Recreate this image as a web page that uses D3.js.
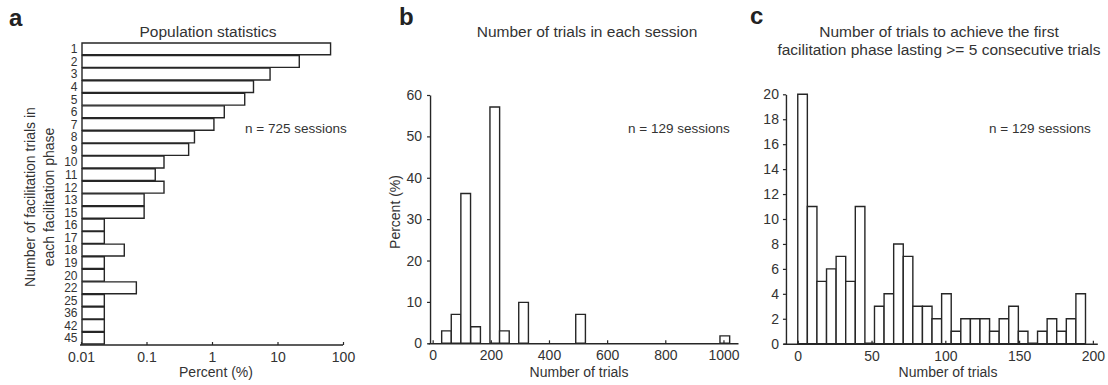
<!DOCTYPE html>
<html>
<head>
<meta charset="utf-8">
<script src="https://cdn.jsdelivr.net/npm/d3@7"></script>
<style>
  html, body { margin: 0; padding: 0; background: #fff; }
  svg { display: block; font-family: "Liberation Sans", Arial, sans-serif; }
  text { fill: #333; }
</style>
</head>
<body>
<svg id="chart" width="1108" height="385"></svg>
<script>
// ---------- Panel a data ----------
const aCategories = ["1","2","3","4","5","6","7","8","9","10","11","12","13","15","16","17","18","19","20","22","25","36","42","45"];
const aPercent = [64.6, 21.5, 7.7, 4.3, 3.16, 1.54, 1.07, 0.54, 0.44, 0.185, 0.136, 0.185, 0.092, 0.092, 0.0227, 0.0227, 0.0458, 0.0227, 0.0227, 0.07, 0.0227, 0.0227, 0.0227, 0.0227];
const aTicks = [0.01, 0.1, 1, 10, 100];
const aTickLabels = ["0.01", "0.1", "1", "10", "100"];

// ---------- Panel b data ----------
const bBinStart = [31, 64, 97, 131, 197, 230, 296, 492, 988];
const bBinWidth = 33.3;
const bPercent = [3, 7, 36.2, 4, 57.1, 3, 9.9, 7, 1.8];
const bXTicks = [0, 200, 400, 600, 800, 1000];
const bYTicks = [0, 10, 20, 30, 40, 50, 60];

// ---------- Panel c data ----------
const cBinWidth = 6.5;
const cPercent = [20, 11, 5, 6, 7, 5, 11, 0, 3, 4, 8, 7, 3, 3, 2, 4, 1, 2, 2, 2, 1, 2, 3, 1, 0, 1, 2, 1, 2, 4];
const cXTicks = [0, 50, 100, 150, 200];
const cYTicks = [0, 2, 4, 6, 8, 10, 12, 14, 16, 18, 20];

const svg = d3.select("#chart");
const INK = "#262626";
const TXT = "#333";

function barPath(x0, x1, y0, y1) {
  return `M${x0},${y0}V${y1}H${x1}V${y0}Z`;
}

function styleAxis(g) {
  g.selectAll("path.domain").attr("stroke", INK).attr("stroke-width", 1.4);
  g.selectAll(".tick line").attr("stroke", INK).attr("stroke-width", 1.2);
  g.selectAll(".tick text").attr("fill", TXT).attr("font-family", "Liberation Sans, Arial, sans-serif");
}

// ================= Panel a =================
(function () {
  const x = d3.scaleLog().domain([0.01, 100]).range([81, 343]);
  const y = d3.scaleBand().domain(aCategories).range([43, 344]).paddingInner(0.06);
  const g = svg.append("g");

  g.selectAll("path.bar").data(aPercent).join("path")
    .attr("class", "bar")
    .attr("d", (d, i) => barPath(x(0.01) + 1, x(d), y(aCategories[i]) + y.bandwidth(), y(aCategories[i])))
    .attr("fill", "#fff").attr("stroke", INK).attr("stroke-width", 1.4);

  g.selectAll("text.ylab").data(aCategories).join("text")
    .attr("class", "ylab")
    .attr("x", 77.5)
    .attr("y", d => y(d) + y.bandwidth() / 2)
    .attr("dy", "0.36em")
    .attr("text-anchor", "end")
    .attr("font-size", 12)
    .text(d => d);

  const ax = g.append("g").attr("transform", "translate(0,345)")
    .call(d3.axisBottom(x).tickValues(aTicks).tickFormat((d, i) => aTickLabels[i]).tickSize(-3).tickSizeOuter(0).tickPadding(7));
  ax.selectAll(".tick text").attr("font-size", 14);
  styleAxis(ax);
  ax.select("path.domain").attr("d", `M${x(0.01) - 1},0H${x(100)}`);

  g.append("text").attr("x", 216).attr("y", 376.5).attr("text-anchor", "middle").attr("font-size", 14).text("Percent (%)");
  g.append("text").attr("x", 208).attr("y", 36.5).attr("text-anchor", "middle").attr("font-size", 15.5).text("Population statistics");
  g.append("text").attr("x", 245).attr("y", 132.5).attr("font-size", 13.5).text("n = 725 sessions");

  g.append("text").attr("transform", "translate(35,197) rotate(-90)").attr("text-anchor", "middle").attr("font-size", 14)
    .text("Number of facilitation trials in");
  g.append("text").attr("transform", "translate(54,197) rotate(-90)").attr("text-anchor", "middle").attr("font-size", 14)
    .text("each facilitation phase");

  g.append("text").attr("x", 9).attr("y", 26).attr("font-size", 24).attr("font-weight", "bold").style("fill", "#222").text("a");
})();

// ================= Panel b =================
(function () {
  const x = d3.scaleLinear().domain([-16, 1050]).range([428, 738]);
  const y = d3.scaleLinear().domain([0, 60]).range([343.3, 95]);
  const g = svg.append("g");

  g.selectAll("path.bar").data(bPercent).join("path")
    .attr("class", "bar")
    .attr("d", (d, i) => barPath(x(bBinStart[i]), x(bBinStart[i] + bBinWidth), y(0), y(d)))
    .attr("fill", "#fff").attr("stroke", INK).attr("stroke-width", 1.4);

  const ay = g.append("g").attr("transform", `translate(${x(-9)},0)`)
    .call(d3.axisLeft(y).tickValues(bYTicks).tickSize(3).tickSizeOuter(0).tickPadding(5));
  ay.selectAll(".tick text").attr("font-size", 14);
  styleAxis(ay);

  const axx = g.append("g").attr("transform", `translate(0,${y(0)})`)
    .call(d3.axisBottom(x).tickValues(bXTicks).tickFormat(d3.format("d")).tickSize(-3).tickSizeOuter(0).tickPadding(7));
  axx.selectAll(".tick text").attr("font-size", 14);
  styleAxis(axx);

  g.append("text").attr("x", 579).attr("y", 376.5).attr("text-anchor", "middle").attr("font-size", 14).text("Number of trials");
  g.append("text").attr("transform", "translate(400,212) rotate(-90)").attr("text-anchor", "middle").attr("font-size", 14).text("Percent (%)");
  g.append("text").attr("x", 587).attr("y", 36.5).attr("text-anchor", "middle").attr("font-size", 15.5).text("Number of trials in each session");
  g.append("text").attr("x", 628).attr("y", 132.5).attr("font-size", 13.5).text("n = 129 sessions");
  g.append("text").attr("x", 399).attr("y", 25).attr("font-size", 24).attr("font-weight", "bold").style("fill", "#222").text("b");
})();

// ================= Panel c =================
(function () {
  const x = d3.scaleLinear().domain([-10, 203]).range([783, 1097.3]);
  const y = d3.scaleLinear().domain([0, 20]).range([343.7, 94.3]);
  const g = svg.append("g");

  g.selectAll("path.bar").data(cPercent).join("path")
    .attr("class", "bar")
    .attr("d", (d, i) => barPath(x(i * cBinWidth), x((i + 1) * cBinWidth), y(0), y(d)))
    .attr("fill", "#fff").attr("stroke", INK).attr("stroke-width", d => d === 0 ? 2.2 : 1.4);

  const ay = g.append("g").attr("transform", `translate(${x(-8)},0)`)
    .call(d3.axisLeft(y).tickValues(cYTicks).tickSize(3).tickSizeOuter(0).tickPadding(4));
  ay.selectAll(".tick text").attr("font-size", 14);
  styleAxis(ay);

  const axx = g.append("g").attr("transform", `translate(0,${y(0)})`)
    .call(d3.axisBottom(x).tickValues(cXTicks).tickSize(-3).tickSizeOuter(0).tickPadding(7));
  axx.selectAll(".tick text").attr("font-size", 14);
  styleAxis(axx);

  g.append("text").attr("x", 948).attr("y", 376.5).attr("text-anchor", "middle").attr("font-size", 14).text("Number of trials");
  g.append("text").attr("x", 939).attr("y", 36.5).attr("text-anchor", "middle").attr("font-size", 15.5).text("Number of trials to achieve the first");
  g.append("text").attr("x", 939).attr("y", 55).attr("text-anchor", "middle").attr("font-size", 15.5).text("facilitation phase lasting >= 5 consecutive trials");
  g.append("text").attr("x", 989).attr("y", 132.5).attr("font-size", 13.5).text("n = 129 sessions");
  g.append("text").attr("x", 750).attr("y", 24).attr("font-size", 24).attr("font-weight", "bold").style("fill", "#222").text("c");
})();
</script>
</body>
</html>
